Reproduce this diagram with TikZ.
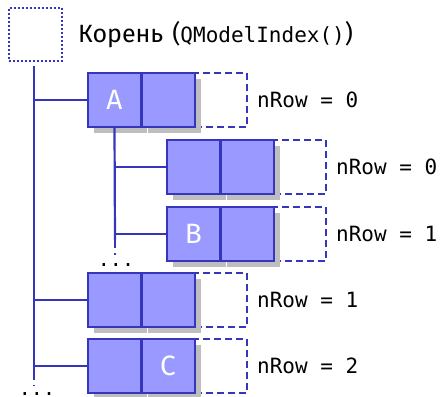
\documentclass[tikz,border=0pt]{standalone}
\usepackage{fontspec}
\setmainfont{Fira Sans}
\setmonofont{DejaVu Sans Mono}
\usetikzlibrary{shadows}
\definecolor{cellfill}{HTML}{9999FF}
\definecolor{cellline}{HTML}{3636BC}
\definecolor{shadowgrey}{HTML}{BEBEBE}
\begin{document}
\begin{tikzpicture}[x=1pt,y=-1pt,
  cell/.style={draw=cellline, fill=cellfill, line width=2pt, minimum width=53pt, minimum height=54pt, inner sep=0pt,
    text=white, font=\fontsize{28}{28}\selectfont,
    drop shadow={shadow xshift=6pt, shadow yshift=-6pt, fill=shadowgrey, opacity=1}},
  slot/.style={draw=cellline, dash pattern=on 7pt off 4pt, line width=1.8pt, minimum width=52pt, minimum height=54pt, inner sep=0pt},
  conn/.style={draw=cellline, line width=2.2pt},
  dconn/.style={draw=cellline, line width=2.2pt, dash pattern=on 8pt off 5pt},
  lbl/.style={anchor=west, inner sep=0pt, font=\fontsize{21}{21}\selectfont\ttfamily},
  dots/.style={anchor=base, inner sep=0pt, font=\fontsize{20}{20}\selectfont\ttfamily}]
\useasboundingbox (0,0) rectangle (440,397);
% root
\node[draw=cellline, line width=2pt, dotted, minimum width=53pt, minimum height=53pt, inner sep=0pt] (root) at (35,34) {};
\node[anchor=west, inner sep=0pt, font=\fontsize{25}{25}\selectfont] (rootlbl) at (78,35) {Корень\hspace{9pt}(\texttt{\fontsize{21}{21}\selectfont QModelIndex()})};
% slots (dashed)
\node[slot] (sA) at (221,100) {};
\node[slot] (s1) at (300,167) {};
\node[slot] (s2) at (300,234) {};
\node[slot] (s3) at (221,300) {};
\node[slot] (s4) at (221,366) {};
% row A
\node[cell] (a1) at (114.5,100) {A};
\node[cell] (a2) at (168,100) {};
% child rows
\node[cell] (b11) at (193.5,167) {};
\node[cell] (b12) at (247,167) {};
\node[cell] (b21) at (193.5,234) {B};
\node[cell] (b22) at (247,234) {};
% row 3
\node[cell] (c1) at (114.5,300) {};
\node[cell] (c2) at (168,300) {};
% row 4
\node[cell] (d1) at (114.5,366) {};
\node[cell] (d2) at (168,366) {C};
% labels
\node[lbl] (lA) at (257,100) {nRow = 0};
\node[lbl] (l1) at (336,167) {nRow = 0};
\node[lbl] (l2) at (336,234) {nRow = 1};
\node[lbl] (l3) at (257,300) {nRow = 1};
\node[lbl] (l4) at (257,366) {nRow = 2};
% main tree line
\coordinate (mtop) at (34,66);
\coordinate (mend) at (34,372);
\coordinate (mdash) at (34,386);
\coordinate (cend) at (115,240);
\coordinate (cdash) at (115,255);
\path[conn] (mtop) -- (mend);
\path[dconn] (mend) -- (mdash);
\path[conn] (34,100) -- (a1.west);
\path[conn] (34,300) -- (c1.west);
\path[conn] (34,366) -- (d1.west);
% child line
\path[conn] (a1.south) -- (cend);
\path[dconn] (cend) -- (cdash);
\path[conn] (115,167) -- (b11.west);
\path[conn] (115,234) -- (b21.west);
% dots
\node[dots] (dots1) at (116,266) {...};
\node[dots] (dots2) at (37,395) {...};
\end{tikzpicture}
\end{document}
